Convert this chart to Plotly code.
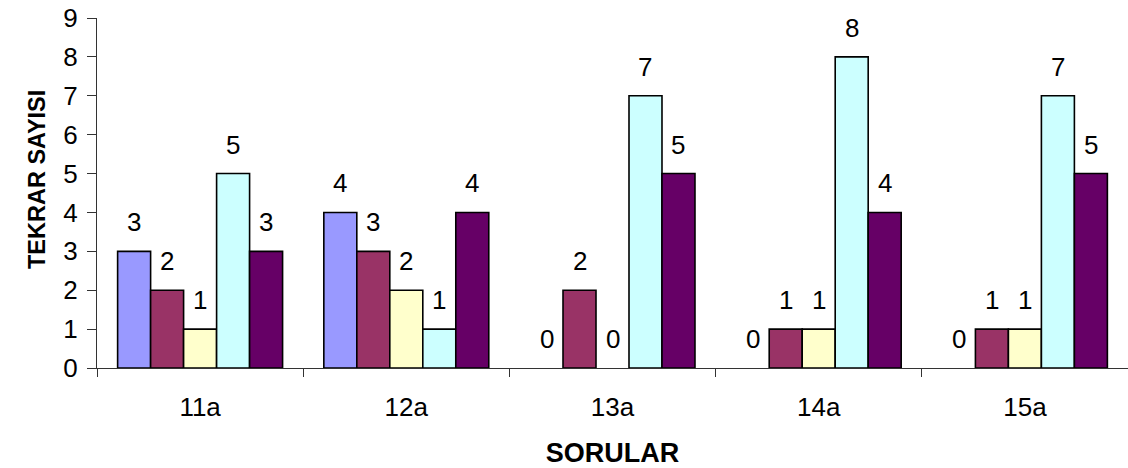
import plotly.graph_objects as go

# data
sorular = ['11a', '12a', '13a', '14a', '15a']
seri1 = [3, 4, 0, 0, 0]
seri2 = [2, 3, 2, 1, 1]
seri3 = [1, 2, 0, 1, 1]
seri4 = [5, 1, 7, 8, 7]
seri5 = [3, 4, 5, 4, 5]
y_ticks = [0, 1, 2, 3, 4, 5, 6, 7, 8, 9]

series = [seri1, seri2, seri3, seri4, seri5]
colors = ['#9999FF', '#993366', '#FFFFCC', '#CCFFFF', '#660066']

W, H = 1128, 468
ml, mr, mt, mb = 97, 0, 18, 100
bargap = 0.2
cat_px = (W - ml - mr) / len(sorular)
bar_px = cat_px * (1 - bargap) / len(series)

fig = go.Figure()
for i, vals in enumerate(series):
    # zero bars are not drawn (no outline at the baseline)
    fig.add_trace(go.Bar(x=sorular, y=[v if v else None for v in vals],
                         marker_color=colors[i],
                         marker_line=dict(color='black', width=1.6),
                         showlegend=False))

# value labels above each bar
for i, vals in enumerate(series):
    for cat, v in zip(sorular, vals):
        fig.add_annotation(x=cat, y=v, text=str(v), showarrow=False,
                           xshift=(i - 2) * bar_px, yshift=29,
                           font=dict(size=26, color='black'))

# y title sits a bit above the middle in the original
fig.add_annotation(x=0, y=0.537, xref='paper', yref='paper', xshift=-75,
                   text='<b>TEKRAR SAYISI</b>', textangle=-90, showarrow=False,
                   font=dict(size=23.5, color='black'))

fig.update_layout(
    width=W, height=H,
    margin=dict(l=ml, r=mr, t=mt, b=mb),
    plot_bgcolor='white', paper_bgcolor='white',
    barmode='group', bargap=bargap, bargroupgap=0,
    font=dict(family='Arial, Liberation Sans', color='black'),
)
fig.update_xaxes(
    showline=True, linecolor='#333333', linewidth=1,
    ticks='outside', tickson='boundaries', ticklen=8, tickcolor='#333333',
    tickfont=dict(size=26), ticklabelstandoff=16,
    title=dict(text='<b>SORULAR</b>', font=dict(size=27), standoff=22),
)
fig.update_yaxes(
    range=[0, 9], tickvals=y_ticks, showgrid=False, zeroline=False,
    showline=True, linecolor='#333333', linewidth=1,
    ticks='outside', ticklen=9, tickcolor='#333333',
    tickfont=dict(size=26), ticklabelstandoff=4,
)

fig.write_html("out.html", config={'displayModeBar': False},
               post_script="document.body.style.margin='0';")
